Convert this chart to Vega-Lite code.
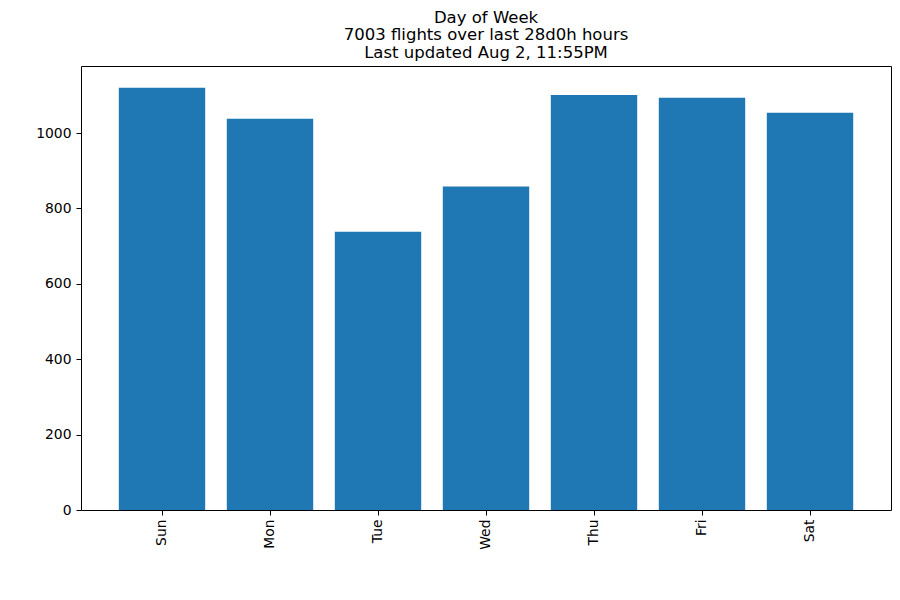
{
  "$schema": "https://vega.github.io/schema/vega-lite/v6.json",
  "autosize": {"type": "none"},
  "padding": {"left": 81, "top": 66, "right": 9, "bottom": 90},
  "width": 810,
  "height": 444,
  "background": "white",
  "title": {
    "text": ["Day of Week", "7003 flights over last 28d0h hours", "Last updated Aug 2, 11:55PM"],
    "font": "DejaVu Sans",
    "fontSize": 16.5,
    "fontWeight": "normal",
    "lineHeight": 17.5,
    "color": "black",
    "anchor": "middle",
    "offset": 5
  },
  "data": {
    "values": [
      {"day": "Sun", "flights": 1120},
      {"day": "Mon", "flights": 1038},
      {"day": "Tue", "flights": 738},
      {"day": "Wed", "flights": 858},
      {"day": "Thu", "flights": 1101},
      {"day": "Fri", "flights": 1094},
      {"day": "Sat", "flights": 1054}
    ]
  },
  "mark": {"type": "bar", "color": "#1f77b4"},
  "encoding": {
    "x": {
      "field": "day",
      "type": "nominal",
      "sort": null,
      "scale": {"paddingInner": 0.2, "paddingOuter": 0.35},
      "axis": {
        "title": null,
        "labelAngle": -90,
        "labelFont": "DejaVu Sans",
        "labelFontSize": 13.9,
        "labelColor": "black",
        "tickColor": "black",
        "tickSize": 5,
        "labelPadding": 4,
        "domain": false,
        "grid": false
      }
    },
    "y": {
      "field": "flights",
      "type": "quantitative",
      "scale": {"domain": [0, 1178], "nice": false, "zero": true},
      "axis": {
        "title": null,
        "format": "d",
        "values": [0, 200, 400, 600, 800, 1000],
        "labelFont": "DejaVu Sans",
        "labelFontSize": 13.9,
        "labelColor": "black",
        "tickColor": "black",
        "tickSize": 5,
        "labelPadding": 5,
        "domain": false,
        "grid": false
      }
    }
  },
  "config": {
    "view": {"stroke": "black", "strokeWidth": 1}
  }
}
